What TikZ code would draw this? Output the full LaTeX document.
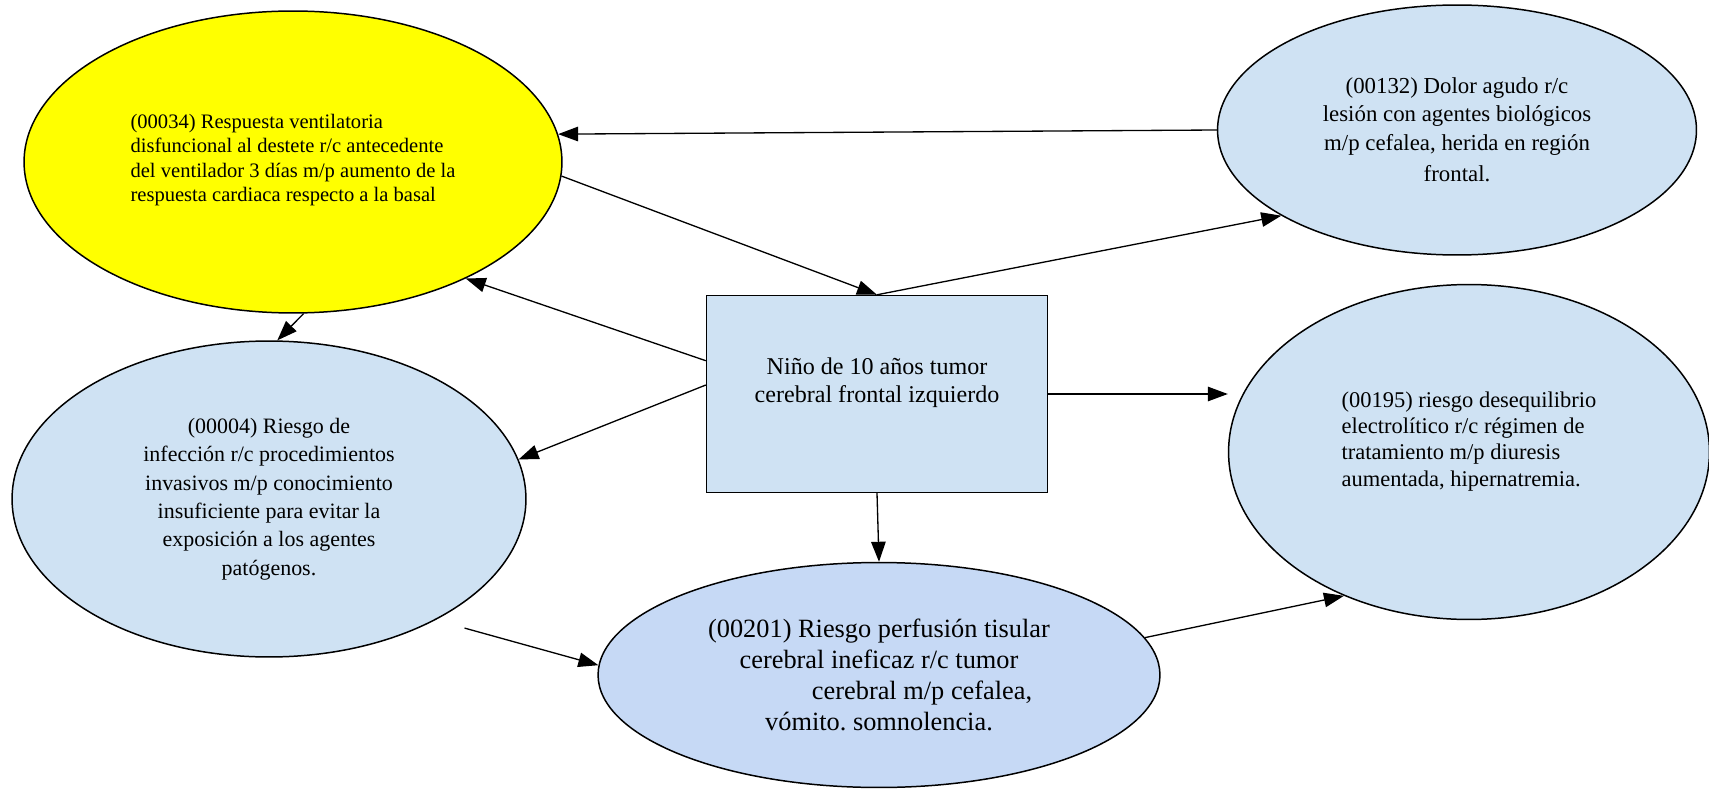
\documentclass[tikz,border=0pt]{standalone}
\usepackage{fontspec}
\setmainfont{Liberation Serif}
\usetikzlibrary{positioning,arrows.meta,shapes.geometric}
\definecolor{celeste}{RGB}{207,226,243}
\definecolor{lila}{RGB}{198,217,245}
\definecolor{amarillo}{RGB}{255,255,0}
\frenchspacing

\begin{document}
\begin{tikzpicture}[
    x=0.02cm, y=-0.02cm,
    diag/.style={ellipse, draw=black, line width=0.85pt, fill=celeste, align=center, inner sep=0pt},
    caso/.style={rectangle, draw=black, line width=0.85pt, fill=celeste, align=center, minimum width=6.82cm, minimum height=3.94cm, font=\fontsize{13.7}{16}\selectfont},
    arrow/.style={-{Triangle[length=4mm, width=2.9mm]}, line width=0.75pt},
]
\useasboundingbox (0,0) rectangle (1709,790);

% Center: the case
\node[caso] (nino) at (877,394) {Niño de 10 años tumor\\cerebral frontal izquierdo\\~};

% Nursing diagnoses
\node[diag, fill=amarillo, align=left, minimum width=10.76cm, minimum height=6.04cm, font=\fontsize{11.7}{14}\selectfont] (vent) at (293,162) {~\\[-8pt](00034) Respuesta ventilatoria\\disfuncional al destete r/c antecedente\\del ventilador 3 días m/p aumento de la\\respuesta cardiaca respecto a la basal};
\node[diag, minimum width=9.58cm, minimum height=5cm, font=\fontsize{13}{16}\selectfont] (dolor) at (1457,130) {(00132) Dolor agudo r/c\\lesión con agentes biológicos\\m/p cefalea, herida en región\\[2pt]frontal.};
\node[diag, align=left, minimum width=9.62cm, minimum height=6.7cm, font=\fontsize{12.8}{15}\selectfont] (electro) at (1469,452) {(00195) riesgo desequilibrio\\electrolítico r/c régimen de\\tratamiento m/p diuresis\\aumentada, hipernatremia.\\~};
\node[diag, minimum width=10.28cm, minimum height=6.32cm, font=\fontsize{12.5}{16.2}\selectfont] (infec) at (269,499) {(00004) Riesgo de\\infección r/c procedimientos\\invasivos m/p conocimiento\\insuficiente para evitar la\\exposición a los agentes\\patógenos.};
\node[diag, fill=lila, minimum width=11.24cm, minimum height=4.5cm, font=\fontsize{15}{17.6}\selectfont] (perf) at (879,675) {(00201) Riesgo perfusión tisular\\cerebral ineficaz r/c tumor\\\hspace*{49pt}cerebral m/p cefalea,\\vómito. somnolencia.};

% Arrows
\draw[arrow] (dolor.180) -- (vent.6);
\draw[arrow] (vent.-3) -- (nino.north);
\draw[arrow] (nino.north) -- (dolor.206);
\draw[arrow] (nino.169) -- (vent.-34);
\draw[arrow] (vent.-86) -- (infec.87);
\draw[arrow] (nino.177) -- (infec.9);
\draw[arrow] (nino.east) -- (nino.east -| electro.west);
\draw[arrow] (nino.south) -- (perf.north);
\draw[arrow, shorten <=0.6cm] (infec.-36) -- (perf.178);
\draw[arrow] (perf.8) -- (electro.229);

\end{tikzpicture}
\end{document}
